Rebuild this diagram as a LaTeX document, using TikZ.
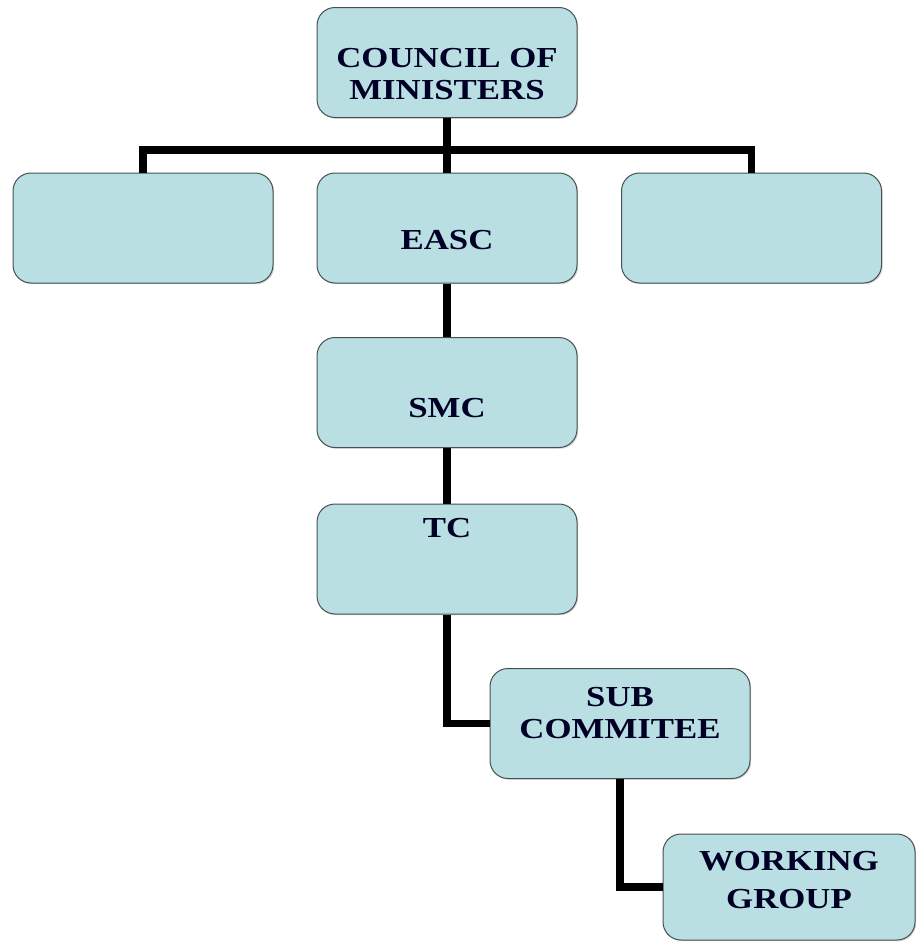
\documentclass[tikz,border=0pt]{standalone}
\usepackage{fontspec}
\setmainfont{Liberation Serif}[FakeStretch=1.2]
\usetikzlibrary{shadows}
\definecolor{boxfill}{RGB}{186,223,227}
\definecolor{boxline}{RGB}{70,80,82}
\tikzset{
  orgbox/.style={draw=boxline, line width=1pt, fill=boxfill, rounded corners=18pt,
    minimum width=260pt, minimum height=110pt, inner sep=0pt,
    drop shadow={shadow xshift=1.2pt, shadow yshift=-1.2pt, opacity=0.35}},
  orgtxt/.style={font=\fontsize{29}{32}\selectfont\bfseries, text=black!85!blue, align=center, inner sep=0pt},
  link/.style={line width=7.5pt, draw=black}
}
\begin{document}
\begin{tikzpicture}[x=1pt,y=-1pt]
\useasboundingbox (0,0) rectangle (919,943);
\coordinate (bus) at (447,150);
\node[orgbox] (council) at (447,62.5) {};
\node[orgbox] (left) at (143,228) {};
\node[orgbox] (easc) at (447,228) {};
\node[orgbox] (right) at (751.5,228) {};
\node[orgbox] (smc) at (447,392.5) {};
\node[orgbox] (tc) at (447,559) {};
\node[orgbox] (sub) at (620,723.5) {};
\node[orgbox, minimum width=252pt, minimum height=106pt] (wg) at (789,887) {};
\draw[link] (council.south) -- (easc.north);
\draw[link] (left.north) |- (bus) -| (right.north);
\draw[link] (easc.south) -- (smc.north);
\draw[link] (smc.south) -- (tc.north);
\draw[link] (tc.south) |- (sub.west);
\draw[link] (sub.south) |- (wg.west);
\node[orgtxt] (tcouncil) at (447,74) {COUNCIL OF\\[0pt]MINISTERS};
\node[orgtxt] (teasc) at (447,240) {EASC};
\node[orgtxt] (tsmc) at (447,408) {SMC};
\node[orgtxt] (ttc) at (447,528) {TC};
\node[orgtxt] (tsub) at (620,713) {SUB\\[0pt]COMMITEE};
\node[orgtxt] (twg) at (789,880) {WORKING\\[6pt]GROUP};
\end{tikzpicture}
\end{document}
